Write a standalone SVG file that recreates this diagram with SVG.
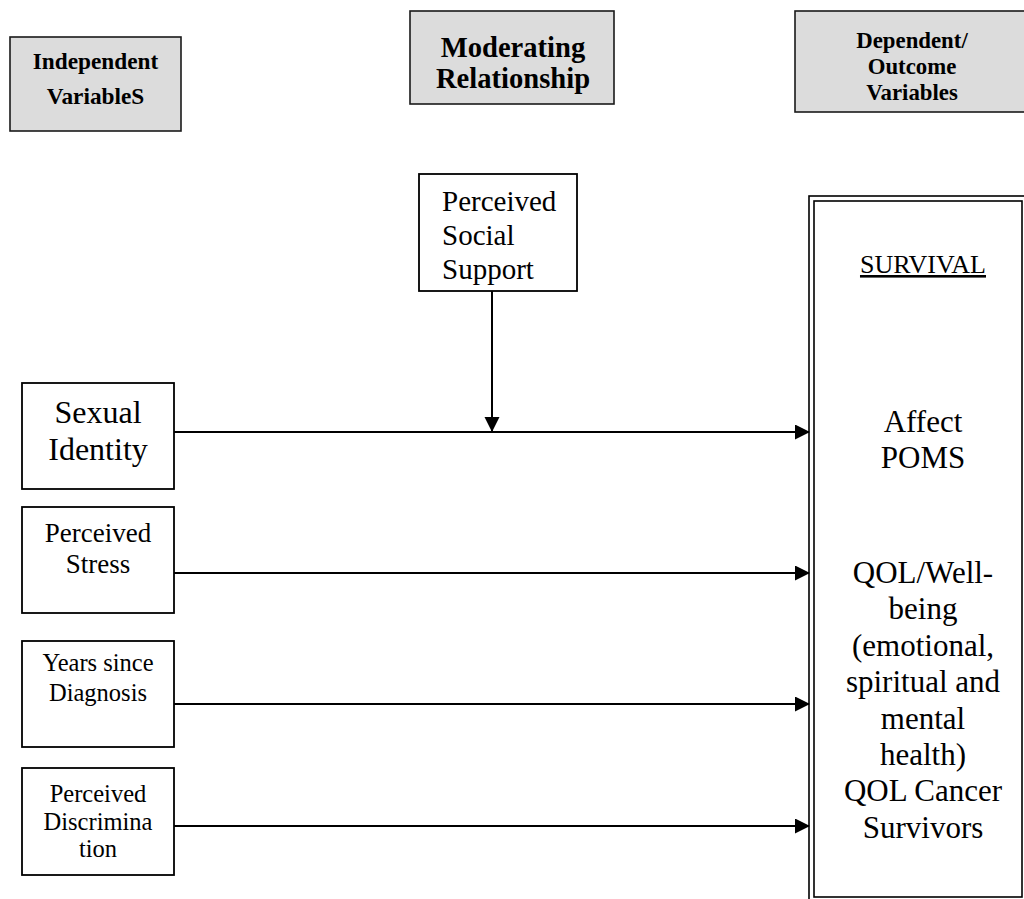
<svg xmlns="http://www.w3.org/2000/svg" width="1024" height="899" viewBox="0 0 1024 899">
<style>
.hdr{fill:#dcdcdc;stroke:#1a1a1a;stroke-width:1.6}
.box{fill:#ffffff;stroke:#000000;stroke-width:1.8}
.dbl{fill:none;stroke:#000000;stroke-width:1.6}
.t{font-family:"Liberation Serif","Times New Roman",serif;fill:#000000}
.b{font-weight:bold}
.c{text-anchor:middle}
.ln{stroke:#000000;stroke-width:2;fill:none}
</style>
<defs>
<marker id="ah" markerWidth="16" markerHeight="16" refX="14" refY="7.5" orient="auto" markerUnits="userSpaceOnUse">
<path d="M0,0 L15,7.5 L0,15 Z" fill="#000000"/>
</marker>
</defs>
<g id="hdr-independent">
<rect class="hdr" x="10" y="37" width="171" height="94"/>
<text class="t b c" x="95.5" y="69" font-size="23.3">Independent</text>
<text class="t b c" x="95.5" y="104" font-size="23.3">VariableS</text>
</g>
<g id="hdr-moderating">
<rect class="hdr" x="410" y="11" width="204" height="93"/>
<text class="t b c" x="513" y="57" font-size="28.6">Moderating</text>
<text class="t b c" x="513" y="88" font-size="28.6">Relationship</text>
</g>
<g id="hdr-dependent">
<rect class="hdr" x="795" y="11" width="240" height="101"/>
<text class="t b c" x="912" y="48" font-size="22.8">Dependent/</text>
<text class="t b c" x="912" y="74" font-size="22.8">Outcome</text>
<text class="t b c" x="912" y="100" font-size="22.8">Variables</text>
</g>
<g id="pss">
<rect class="box" x="419" y="174" width="158" height="117"/>
<text class="t" x="442" y="211" font-size="29">Perceived</text>
<text class="t" x="442" y="245" font-size="29">Social</text>
<text class="t" x="442" y="279" font-size="29">Support</text>
</g>
<g id="sexual-identity">
<rect class="box" x="22" y="383" width="152" height="106"/>
<text class="t c" x="98" y="423" font-size="32">Sexual</text>
<text class="t c" x="98" y="460" font-size="32">Identity</text>
</g>
<g id="perceived-stress">
<rect class="box" x="22" y="507" width="152" height="106"/>
<text class="t c" x="98" y="542" font-size="27">Perceived</text>
<text class="t c" x="98" y="573" font-size="27">Stress</text>
</g>
<g id="years-since">
<rect class="box" x="22" y="641" width="152" height="106"/>
<text class="t c" x="98" y="671" font-size="24.5">Years since</text>
<text class="t c" x="98" y="701" font-size="24.5">Diagnosis</text>
</g>
<g id="perceived-discrimination">
<rect class="box" x="22" y="768" width="152" height="107"/>
<text class="t c" x="98" y="802" font-size="24.5">Perceived</text>
<text class="t c" x="98" y="830" font-size="24.5">Discrimina</text>
<text class="t c" x="98" y="857" font-size="24.5">tion</text>
</g>
<g id="survival">
<rect class="dbl" x="809" y="196" width="222" height="712"/>
<rect class="dbl" x="814" y="201" width="208" height="696"/>
<text class="t c" x="923" y="273" font-size="26" text-decoration="underline">SURVIVAL</text>
<text class="t c" x="923" y="432" font-size="31">Affect</text>
<text class="t c" x="923" y="468" font-size="31">POMS</text>
<text class="t c" x="923" y="583" font-size="31">QOL/Well-</text>
<text class="t c" x="923" y="619.4" font-size="31">being</text>
<text class="t c" x="923" y="655.8" font-size="31">(emotional,</text>
<text class="t c" x="923" y="692.2" font-size="31">spiritual and</text>
<text class="t c" x="923" y="728.6" font-size="31">mental</text>
<text class="t c" x="923" y="765" font-size="31">health)</text>
<text class="t c" x="923" y="801.4" font-size="31">QOL Cancer</text>
<text class="t c" x="923" y="837.8" font-size="31">Survivors</text>
</g>
<g id="connectors">
<line class="ln" x1="174" y1="432" x2="809" y2="432" marker-end="url(#ah)"/>
<line class="ln" x1="174" y1="573" x2="809" y2="573" marker-end="url(#ah)"/>
<line class="ln" x1="174" y1="704" x2="809" y2="704" marker-end="url(#ah)"/>
<line class="ln" x1="174" y1="826" x2="809" y2="826" marker-end="url(#ah)"/>
<line class="ln" x1="492" y1="291" x2="492" y2="431" marker-end="url(#ah)"/>
</g>
</svg>
